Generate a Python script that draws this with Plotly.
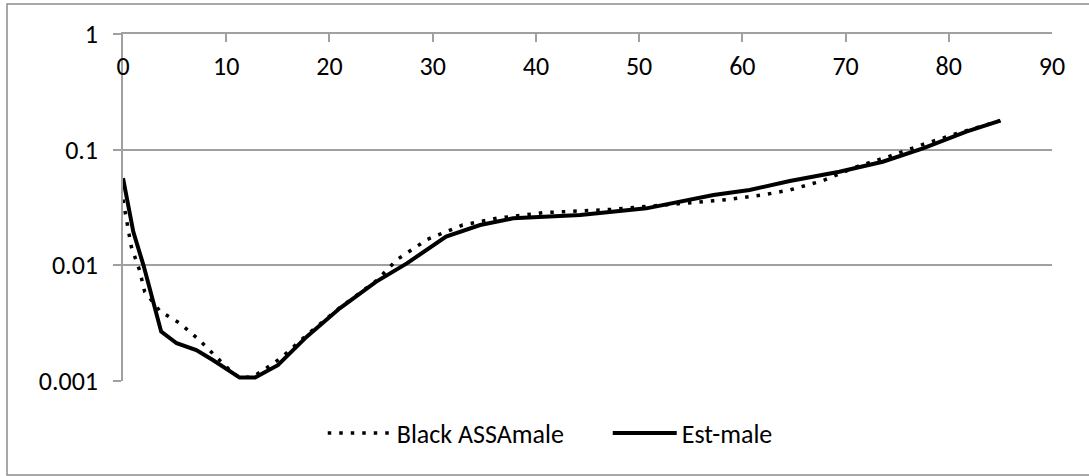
import plotly.graph_objects as go

# Data
ages_black = [0, 0.8, 1.6, 2.1, 3.6, 5.5, 7.3, 8.9, 10.5, 11.3, 12.5, 13.6, 15.3, 17.8, 21, 24.5,
              26.6, 29.5, 32.9, 36.2, 40.7, 47.5, 52, 55.6, 58.8, 62.3, 64.6, 67.8, 71.1, 74.3,
              77.5, 80.8, 85]
black_assa_male = [0.037, 0.0145, 0.0091, 0.0059, 0.0040, 0.00316, 0.0023, 0.00168, 0.0012, 0.00107,
                   0.00108, 0.00124, 0.00158, 0.0025, 0.0043, 0.0073, 0.0113, 0.0168, 0.0223, 0.0255,
                   0.0285, 0.0305, 0.0332, 0.0351, 0.0372, 0.0411, 0.0448, 0.054, 0.0713, 0.088,
                   0.111, 0.138, 0.178]

ages_est = [0, 1, 2, 3, 3.7, 5.2, 7.1, 8.7, 11.3, 12.8, 15, 17.8, 21, 24.5, 27.5, 31.3, 34.6,
            37.8, 44.3, 50.7, 57.2, 60.7, 64.6, 69.4, 73.6, 77.5, 81.7, 85]
est_male = [0.0567, 0.0195, 0.0099, 0.0044, 0.00267, 0.00212, 0.00185, 0.00152, 0.00107, 0.00107,
            0.00137, 0.00242, 0.00425, 0.0072, 0.0104, 0.0177, 0.0223, 0.0255, 0.0272, 0.0311,
            0.0405, 0.0448, 0.0536, 0.0645, 0.0787, 0.1027, 0.143, 0.178]

x_ticks = [0, 10, 20, 30, 40, 50, 60, 70, 80, 90]
y_tickvals = [0.001, 0.01, 0.1, 1]
y_ticktext = ["0.001", "0.01", "0.1", "1"]

FONT = "Carlito, Calibri, Lato, sans-serif"
FS = 26
GRID = "#a0a0a0"
PW, PH = 929, 347  # plot area size in px

fig = go.Figure()
fig.add_trace(go.Scatter(x=ages_black, y=black_assa_male, mode="lines", name="Black ASSAmale",
                         xaxis="x2",
                         line=dict(color="black", width=3.5, dash="3.5px,8px")))
fig.add_trace(go.Scatter(x=ages_est, y=est_male, mode="lines", name="Est-male",
                         line=dict(color="black", width=4)))

fig.update_layout(
    width=1089, height=476,
    margin=dict(l=123, r=37, t=34, b=95),
    paper_bgcolor="white", plot_bgcolor="white",
    font=dict(family=FONT, size=FS, color="black"),
    showlegend=True,
    legend=dict(orientation="h", x=0.215, xanchor="left", y=-52 / PH, yanchor="middle",
                itemwidth=64, entrywidth=206, font=dict(size=FS), bgcolor="rgba(0,0,0,0)"),
    xaxis=dict(range=[0, 90], tickvals=x_ticks, side="top", ticks="inside", ticklen=8,
               tickcolor=GRID, tickwidth=1.5, showticklabels=False,
               showline=True, linecolor=GRID, linewidth=1.5, showgrid=False, zeroline=False),
    xaxis2=dict(range=[0, 90], tickvals=x_ticks, overlaying="x", anchor="free",
                position=1 - 14 / PH, side="bottom", ticks="", showline=False,
                showgrid=False, zeroline=False, tickfont=dict(size=FS, color="black")),
    yaxis=dict(type="log", range=[-3, 0], tickvals=y_tickvals, ticktext=y_ticktext,
               ticks="outside", ticklen=8, tickcolor=GRID, tickwidth=1.5,
               ticklabelstandoff=10,
               showline=True, linecolor=GRID, linewidth=1.5,
               showgrid=True, gridcolor=GRID, gridwidth=1.5, zeroline=False,
               tickfont=dict(size=FS, color="black")),
    shapes=[dict(type="rect", xref="paper", yref="paper",
                 x0=-116 / PW, x1=(1100 - 123) / PW, y0=-94 / PH, y1=1 + 30 / PH,
                 line=dict(color="#8c8c8c", width=1.5))],
)

fig.write_html("out.html")
